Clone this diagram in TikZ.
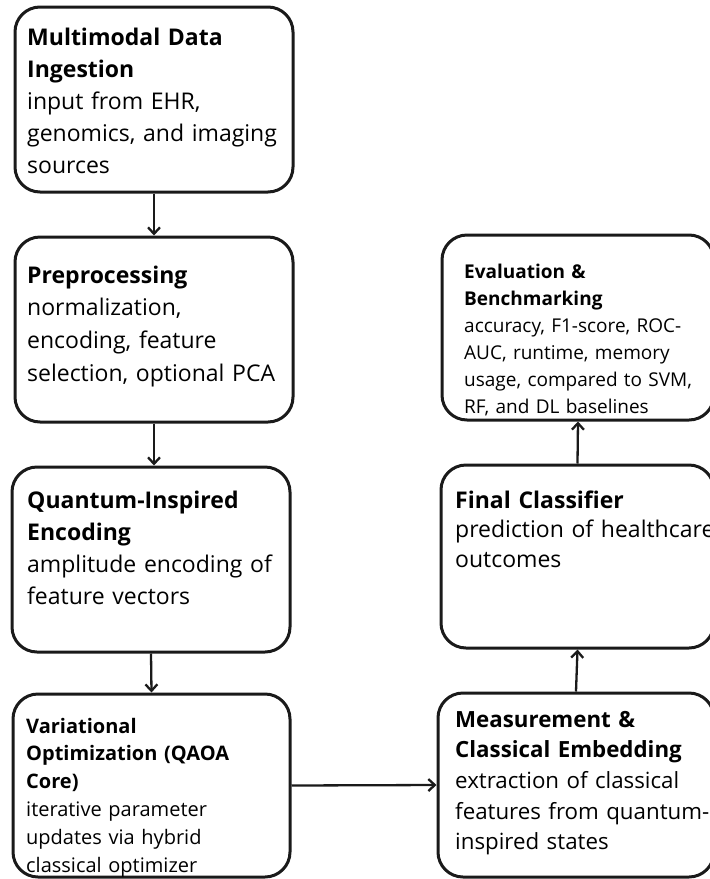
\documentclass[tikz,border=0pt]{standalone}
\usepackage{fontspec}
\setmainfont{Open Sans}
\usetikzlibrary{arrows.meta}
\definecolor{ink}{HTML}{1A1A1A}
\begin{document}
\begin{tikzpicture}[x=1pt,y=-1pt,
  stage/.style={draw=ink, line width=3pt, rounded corners=25pt, inner sep=0pt},
  lbl/.style={anchor=base west, inner sep=0pt, text width=320pt, align=left, text=black},
  flow/.style={draw=ink, line width=2.3pt, -{Straight Barb[length=6.5pt,width=12pt,line width=2.3pt]}}
]
\useasboundingbox (0,0) rectangle (710,879);

% boxes
\node[stage, minimum width=278pt, minimum height=185pt] (b1) at (154,99.5) {};
\node[stage, minimum width=278pt, minimum height=185pt] (b2) at (154,329.5) {};
\node[stage, minimum width=278pt, minimum height=185pt] (b3) at (151,559.5) {};
\node[stage, minimum width=277pt, minimum height=183pt] (b4) at (151.5,785.5) {};
\node[stage, minimum width=276pt, minimum height=184pt] (b5) at (576,785) {};
\node[stage, minimum width=273pt, minimum height=183pt] (b6) at (577.5,556.5) {};
\node[stage, minimum width=272pt, minimum height=185pt] (b7) at (578,327.5) {};

% texts
\node[lbl, font=\fontsize{23}{32}\selectfont] (t1) at (27,45)
  {\textbf{Multimodal Data}\\\textbf{Ingestion}\\input from EHR,\\genomics, and imaging\\sources};
\node[lbl, font=\fontsize{23}{32.7}\selectfont] (t2) at (27,283)
  {\textbf{Preprocessing}\\normalization,\\encoding, feature\\selection, optional PCA};
\node[lbl, font=\fontsize{23}{32.3}\selectfont] (t3) at (27,508)
  {\textbf{Quantum-Inspired}\\\textbf{Encoding}\\amplitude encoding of\\feature vectors};
\node[lbl, font=\fontsize{20}{27.8}\selectfont] (t4) at (26,733)
  {\textbf{Variational}\\\textbf{Optimization (QAOA}\\\textbf{Core)}\\iterative parameter\\updates via hybrid\\classical optimizer};
\node[lbl, font=\fontsize{22.3}{30.7}\selectfont] (t5) at (455,727)
  {\textbf{Measurement \&}\\\textbf{Classical Embedding}\\extraction of classical\\features from quantum-\\inspired states};
\node[lbl, font=\fontsize{23}{29.5}\selectfont] (t6) at (455,508)
  {\textbf{Final Classifier}\\prediction of healthcare\\outcomes};
\node[lbl, font=\fontsize{19}{27}\selectfont] (t7) at (464,278)
  {\textbf{Evaluation \&}\\\textbf{Benchmarking}\\accuracy, F1-score, ROC-\\AUC, runtime, memory\\usage, compared to SVM,\\RF, and DL baselines};

% connectors
\draw[flow] (b1.south) -- (b2.north);
\draw[flow] (b2.south) -- (b2.south |- b3.north);
\draw[flow] (b3.south) -- (b4.north);
\draw[flow] (b4.east) -- (b5.west);
\draw[flow] (b5.north) -- (b6.south);
\draw[flow] (b6.north) -- (b7.south);
\end{tikzpicture}
\end{document}
